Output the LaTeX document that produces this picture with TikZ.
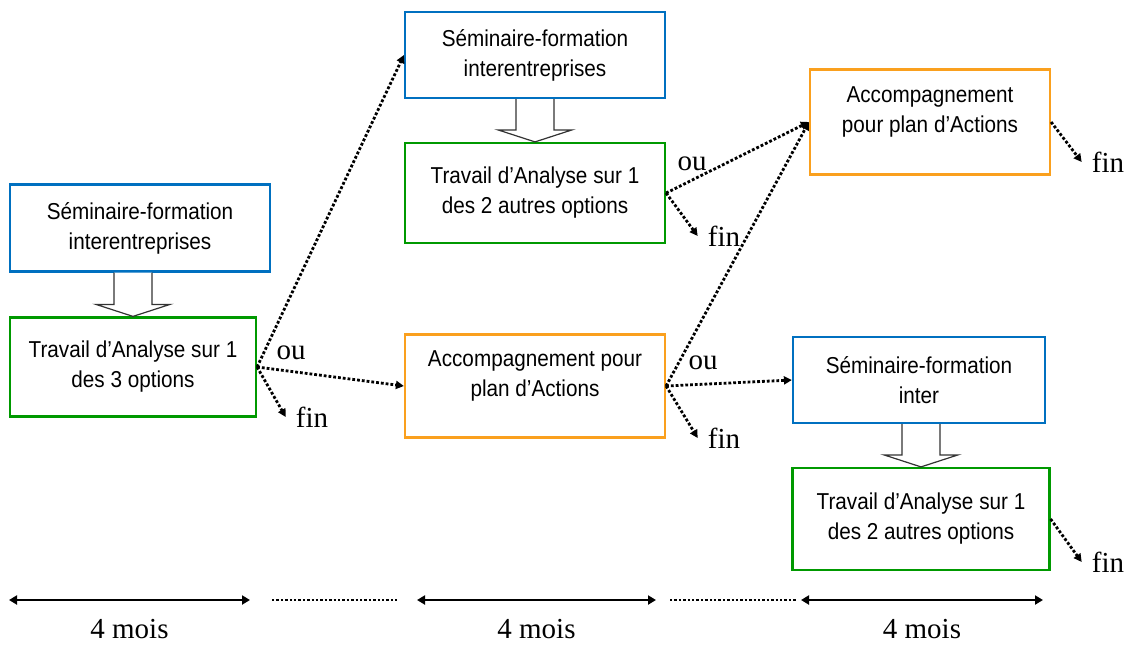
\documentclass[tikz,border=0pt]{standalone}
\usepackage{fontspec}
\usepackage{tikz}
\usetikzlibrary{arrows.meta,calc}
\newfontfamily\boxfont[FakeStretch=0.9]{Liberation Sans}
\newfontfamily\notefont{Liberation Serif}
\definecolor{semblue}{RGB}{0,112,192}
\definecolor{anagreen}{RGB}{0,153,0}
\definecolor{accorange}{RGB}{250,160,30}

\begin{document}
\begin{tikzpicture}[x=1pt,y=-1pt,
	box/.style={draw,line width=2.2pt,fill=white,align=center,
		font=\boxfont\fontsize{23}{30}\selectfont,inner sep=0pt},
	sem/.style={box,draw=semblue},
	ana/.style={box,draw=anagreen},
	acc/.style={box,draw=accorange},
	notetext/.style={font=\notefont\fontsize{29}{32}\selectfont,inner sep=2pt},
	finlabel/.style={notetext,inner xsep=10pt},
	dotarrow/.style={dotted,line width=2.8pt,-{Triangle[length=8pt,width=8pt]}},
	hollow/.style={draw=black!80,line width=1.2pt,fill=white},
	periodline/.style={line width=2.5pt,{Triangle[length=8pt,width=9pt]}-{Triangle[length=8pt,width=9pt]}},
	gapline/.style={dotted,line width=2.4pt}]
	\useasboundingbox (0,0) rectangle (1130,646);
	% boxes
	\node[sem,minimum width=260pt,minimum height=87pt] (b1) at (140,228) {Séminaire-formation\\interentreprises};
	\node[ana,minimum width=246pt,minimum height=99pt] (b2) at (133,367) {Travail d’Analyse sur 1\\des 3 options};
	\node[sem,minimum width=260pt,minimum height=86pt] (b3) at (535,55) {Séminaire-formation\\interentreprises};
	\node[ana,minimum width=260pt,minimum height=100pt] (b4) at (535,193) {Travail d’Analyse sur 1\\des 2 autres options};
	\node[acc,minimum width=260pt,minimum height=103pt] (b5) at (535,386) {Accompagnement pour\\plan d’Actions\\[-6pt]\mbox{}};
	\node[acc,minimum width=240pt,minimum height=105pt] (b6) at (930,122) {Accompagnement\\pour plan d’Actions\\[-6pt]\mbox{}};
	\node[sem,minimum width=252pt,minimum height=86pt] (b7) at (919,380) {Séminaire-formation\\inter};
	\node[ana,minimum width=257pt,minimum height=102pt] (b8) at (921,519) {Travail d’Analyse sur 1\\des 2 autres options};
	% hollow arrows
	\foreach \a/\b in {b1/b2,b3/b4,b7/b8}
		\draw[hollow] ($(\b.north |- \a.south)+(-19,0)$) -- ($(\b.north)+(-19,-12)$)
			-- ($(\b.north)+(-37,-12)$) -- (\b.north) -- ($(\b.north)+(37,-12)$)
			-- ($(\b.north)+(19,-12)$) -- ($(\b.north |- \a.south)+(19,0)$);
	% choices
	\node[notetext] (ou1) at (291,353) {ou};
	\node[notetext] (ou2) at (692,164) {ou};
	\node[notetext] (ou3) at (703,363) {ou};
	\node[finlabel] (fin1) at (312,417) {fin};
	\node[finlabel] (fin2) at (724,236) {fin};
	\node[finlabel] (fin3) at (724,438) {fin};
	\node[finlabel] (fin4) at (1108,162) {fin};
	\node[finlabel] (fin5) at (1108,562) {fin};
	\draw[dotarrow] (b2.east) -- (b3.west);
	\draw[dotarrow] (b2.east) -- (b5.west);
	\draw[dotarrow] (b4.east) -- (b6.west);
	\draw[dotarrow] (b5.east) -- (b6.west);
	\draw[dotarrow] (b5.east) -- (b7.west);
	\foreach \s/\f in {b2/fin1,b4/fin2,b5/fin3,b6/fin4,b8/fin5}
		\draw[dotarrow] (\s.east) -- (\f.west);
	% time line
	\coordinate (t0) at (9,600);
	\coordinate (t1) at (250,600);
	\coordinate (t2) at (272,600);
	\coordinate (t3) at (397,600);
	\coordinate (t4) at (417,600);
	\coordinate (t5) at (656,600);
	\coordinate (t6) at (670,600);
	\coordinate (t7) at (797,600);
	\coordinate (t8) at (801,600);
	\coordinate (t9) at (1043,600);
	\draw[periodline] (t0) -- node[notetext,inner sep=0pt,below=18pt] (m1) {4 mois} (t1);
	\draw[gapline] (t2) -- (t3);
	\draw[periodline] (t4) -- node[notetext,inner sep=0pt,below=18pt] (m2) {4 mois} (t5);
	\draw[gapline] (t6) -- (t7);
	\draw[periodline] (t8) -- node[notetext,inner sep=0pt,below=18pt] (m3) {4 mois} (t9);
\end{tikzpicture}
\end{document}
